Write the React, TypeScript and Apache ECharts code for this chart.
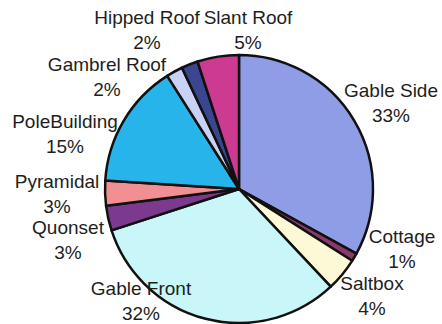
import React, { useEffect, useRef } from "react";
import * as echarts from "echarts";

const categories = [
  "Gable Side",
  "Cottage",
  "Saltbox",
  "Gable Front",
  "Quonset",
  "Pyramidal",
  "PoleBuilding",
  "Gambrel Roof",
  "Hipped Roof",
  "Slant Roof",
];
const percents = [33, 1, 4, 32, 3, 3, 15, 2, 2, 5];

const sliceColors = [
  "#8f9de6",
  "#8a3a6a",
  "#fdf8d6",
  "#c9f6f9",
  "#7b3a8e",
  "#f28f92",
  "#27b4ea",
  "#c9d1f4",
  "#3b4590",
  "#cc3a91",
];

// label anchor centres (pixels)
const labelPos: [number, number][] = [
  [391, 103],
  [402, 249],
  [372, 296],
  [141, 301],
  [68, 240],
  [57, 194],
  [65, 134],
  [107, 77],
  [147, 30],
  [248, 30],
];

export default function App() {
  const ref = useRef<HTMLDivElement>(null);
  useEffect(() => {
    document.body.style.margin = "0";
    const chart = echarts.init(ref.current!, undefined, { renderer: "svg" });
    chart.setOption({
      animation: false,
      backgroundColor: "#ffffff",
      series: [
        {
          type: "pie",
          center: [239, 189],
          radius: 134,
          startAngle: 90,
          clockwise: true,
          avoidLabelOverlap: false,
          data: categories.map((name, i) => ({
            name,
            value: percents[i],
            itemStyle: { color: sliceColors[i] },
          })),
          itemStyle: { borderColor: "#111", borderWidth: 2.5 },
          label: {
            show: true,
            position: "outside",
            formatter: "{b}\n{c}%",
            fontFamily: "Liberation Sans, Arial, sans-serif",
            fontSize: 19,
            lineHeight: 25,
            color: "#1e1e1e",
            align: "center",
          },
          labelLine: { show: false },
          labelLayout: (params: any) => {
            const p = labelPos[params.dataIndex];
            return {
              x: p[0],
              y: p[1],
              align: "center",
              verticalAlign: "middle",
              hideOverlap: false,
            };
          },
          emphasis: { disabled: true },
        },
      ],
    });
    return () => chart.dispose();
  }, []);
  return (
    <div
      ref={ref}
      style={{ position: "absolute", left: 0, top: 0, width: 442, height: 324 }}
    />
  );
}
